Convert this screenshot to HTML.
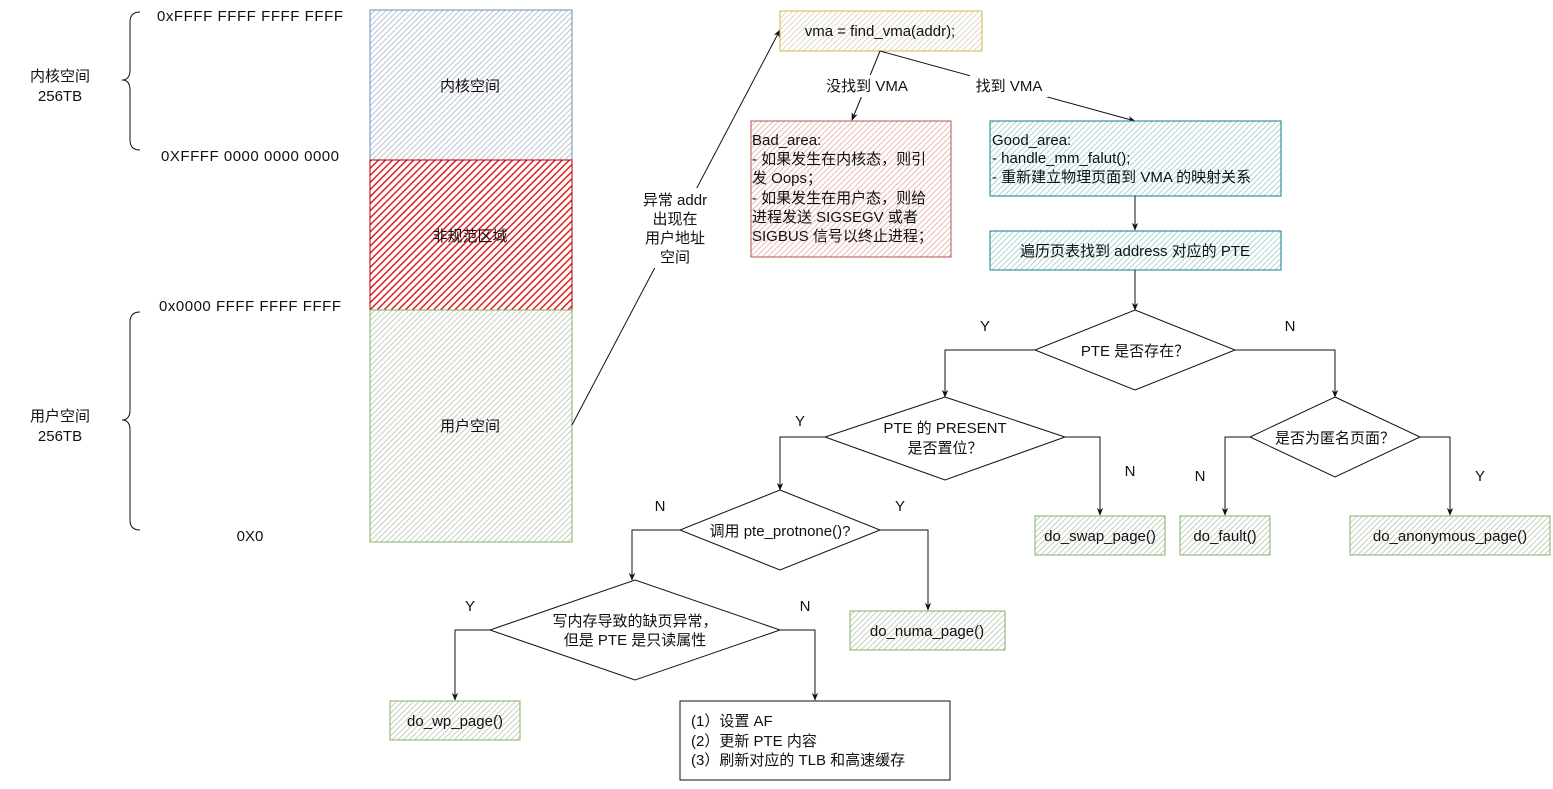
<!DOCTYPE html>
<html><head><meta charset="utf-8"><style>
html,body{margin:0;padding:0;background:#fff;}
svg text{font-family:"Liberation Sans","Noto Sans CJK SC",sans-serif;font-size:15px;fill:#111;}
</style></head><body>
<svg width="1553" height="784" viewBox="0 0 1553 784" xmlns="http://www.w3.org/2000/svg">
<defs>
<pattern id="hb" width="4" height="4" patternUnits="userSpaceOnUse" patternTransform="rotate(45)"><rect width="4" height="4" fill="#fff"/><line x1="0" y1="0" x2="0" y2="4" stroke="#aab6c8" stroke-width="1.6"/></pattern>
<pattern id="hr" width="5" height="5" patternUnits="userSpaceOnUse" patternTransform="rotate(45)"><rect width="5" height="5" fill="#fff"/><line x1="0" y1="0" x2="0" y2="5" stroke="#e02020" stroke-width="3"/></pattern>
<pattern id="hg" width="4" height="4" patternUnits="userSpaceOnUse" patternTransform="rotate(45)"><rect width="4" height="4" fill="#fff"/><line x1="0" y1="0" x2="0" y2="4" stroke="#b8c4b0" stroke-width="1.6"/></pattern>
<pattern id="hy" width="4" height="4" patternUnits="userSpaceOnUse" patternTransform="rotate(45)"><rect width="4" height="4" fill="#fff"/><line x1="0" y1="0" x2="0" y2="4" stroke="#d8d0b0" stroke-width="1.6"/></pattern>
<pattern id="hp" width="4" height="4" patternUnits="userSpaceOnUse" patternTransform="rotate(45)"><rect width="4" height="4" fill="#fff"/><line x1="0" y1="0" x2="0" y2="4" stroke="#e8a8a8" stroke-width="1.6"/></pattern>
<pattern id="ht" width="4" height="4" patternUnits="userSpaceOnUse" patternTransform="rotate(45)"><rect width="4" height="4" fill="#fff"/><line x1="0" y1="0" x2="0" y2="4" stroke="#98cccc" stroke-width="1.6"/></pattern>
<marker id="a" viewBox="0 0 10 10" refX="9" refY="5" markerWidth="8" markerHeight="8" orient="auto"><path d="M0,1 L10,5 L0,9 L3,5z" fill="#111"/></marker>
</defs>

<rect x="370" y="10" width="202" height="150" fill="url(#hb)" stroke="#6c8ebf"/>
<rect x="370" y="160" width="202" height="150" fill="url(#hr)" stroke="#b20000"/>
<rect x="370" y="310" width="202" height="232" fill="url(#hg)" stroke="#82b366"/>
<text x="470" y="91" text-anchor="middle">内核空间</text>
<text x="470" y="241" text-anchor="middle">非规范区域</text>
<text x="470" y="431" text-anchor="middle">用户空间</text>

<text x="250" y="21" text-anchor="middle" textLength="186">0xFFFF FFFF FFFF FFFF</text>
<text x="250" y="161" text-anchor="middle" textLength="178">0XFFFF 0000 0000 0000</text>
<text x="250" y="311" text-anchor="middle" textLength="182">0x0000 FFFF FFFF FFFF</text>
<text x="250" y="541" text-anchor="middle">0X0</text>
<text x="60" y="81" text-anchor="middle">内核空间</text>
<text x="60" y="101" text-anchor="middle">256TB</text>
<text x="60" y="421" text-anchor="middle">用户空间</text>
<text x="60" y="441" text-anchor="middle">256TB</text>
<path d="M140,12 Q130,12 130,22 L130,70 Q130,80 122,80 Q130,80 130,90 L130,140 Q130,150 140,150" fill="none" stroke="#111"/>
<path d="M140,312 Q130,312 130,322 L130,410 Q130,420 122,420 Q130,420 130,430 L130,520 Q130,530 140,530" fill="none" stroke="#111"/>

<line x1="572" y1="425" x2="780" y2="30" stroke="#111" marker-end="url(#a)"/>
<rect x="636" y="188" width="80" height="80" fill="#fff"/>
<text x="675" y="205" text-anchor="middle">异常 addr</text>
<text x="675" y="224" text-anchor="middle">出现在</text>
<text x="675" y="243" text-anchor="middle">用户地址</text>
<text x="675" y="262" text-anchor="middle">空间</text>

<rect x="780" y="11" width="202" height="40" fill="url(#hy)" stroke="#d6b656"/>
<text x="880" y="36" text-anchor="middle">vma = find_vma(addr);</text>
<line x1="880" y1="51" x2="852" y2="120" stroke="#111" marker-end="url(#a)"/>
<line x1="880" y1="51" x2="1135" y2="121" stroke="#111" marker-end="url(#a)"/>
<rect x="820" y="75" width="95" height="22" fill="#fff"/>
<text x="867" y="91" text-anchor="middle">没找到 VMA</text>
<rect x="970" y="75" width="78" height="22" fill="#fff"/>
<text x="1009" y="91" text-anchor="middle">找到 VMA</text>

<rect x="751" y="121" width="200" height="136" fill="url(#hp)" stroke="#b85450"/>
<text x="752" y="145">Bad_area:</text>
<text x="752" y="164">- 如果发生在内核态，则引</text>
<text x="752" y="183">发 Oops；</text>
<text x="752" y="203">- 如果发生在用户态，则给</text>
<text x="752" y="222">进程发送 SIGSEGV 或者</text>
<text x="752" y="241">SIGBUS 信号以终止进程；</text>

<rect x="990" y="121" width="291" height="75" fill="url(#ht)" stroke="#0e8088"/>
<text x="992" y="145">Good_area:</text>
<text x="992" y="163">- handle_mm_falut();</text>
<text x="992" y="182">- 重新建立物理页面到 VMA 的映射关系</text>
<line x1="1135" y1="196" x2="1135" y2="230" stroke="#111" marker-end="url(#a)"/>
<rect x="990" y="231" width="291" height="39" fill="url(#ht)" stroke="#0e8088"/>
<text x="1135" y="256" text-anchor="middle">遍历页表找到 address 对应的 PTE</text>
<line x1="1135" y1="270" x2="1135" y2="310" stroke="#111" marker-end="url(#a)"/>

<g fill="#fff" stroke="#111">
<polygon points="1135,310 1235,350 1135,390 1035,350"/>
<polygon points="945,397 1065,437 945,480 825,437"/>
<polygon points="1335,397 1420,437 1335,477 1250,437"/>
<polygon points="780,490 880,530 780,570 680,530"/>
<polygon points="635,580 780,630 635,680 490,630"/>
</g>
<text x="1135" y="356" text-anchor="middle">PTE 是否存在？</text>
<text x="945" y="433" text-anchor="middle">PTE 的 PRESENT</text>
<text x="945" y="453" text-anchor="middle">是否置位？</text>
<text x="1335" y="443" text-anchor="middle">是否为匿名页面？</text>
<text x="780" y="536" text-anchor="middle">调用 pte_protnone()?</text>
<text x="635" y="626" text-anchor="middle">写内存导致的缺页异常，</text>
<text x="635" y="645" text-anchor="middle">但是 PTE 是只读属性</text>

<g fill="none" stroke="#111" marker-end="url(#a)">
<polyline points="1035,350 945,350 945,397"/>
<polyline points="1235,350 1335,350 1335,397"/>
<polyline points="825,437 780,437 780,490"/>
<polyline points="1065,437 1100,437 1100,515"/>
<polyline points="1250,437 1225,437 1225,515"/>
<polyline points="1420,437 1450,437 1450,515"/>
<polyline points="680,530 632,530 632,580"/>
<polyline points="880,530 928,530 928,610"/>
<polyline points="490,630 455,630 455,700"/>
<polyline points="780,630 815,630 815,700"/>
</g>
<text x="985" y="331" text-anchor="middle">Y</text>
<text x="1290" y="331" text-anchor="middle">N</text>
<text x="800" y="426" text-anchor="middle">Y</text>
<text x="1130" y="476" text-anchor="middle">N</text>
<text x="1200" y="481" text-anchor="middle">N</text>
<text x="1480" y="481" text-anchor="middle">Y</text>
<text x="660" y="511" text-anchor="middle">N</text>
<text x="900" y="511" text-anchor="middle">Y</text>
<text x="470" y="611" text-anchor="middle">Y</text>
<text x="805" y="611" text-anchor="middle">N</text>

<g fill="url(#hg)" stroke="#82b366">
<rect x="1035" y="516" width="130" height="39"/>
<rect x="1180" y="516" width="90" height="39"/>
<rect x="1350" y="516" width="200" height="39"/>
<rect x="850" y="611" width="155" height="39"/>
<rect x="390" y="701" width="130" height="39"/>
</g>
<text x="1100" y="541" text-anchor="middle">do_swap_page()</text>
<text x="1225" y="541" text-anchor="middle">do_fault()</text>
<text x="1450" y="541" text-anchor="middle">do_anonymous_page()</text>
<text x="927" y="636" text-anchor="middle">do_numa_page()</text>
<text x="455" y="726" text-anchor="middle">do_wp_page()</text>

<rect x="680" y="701" width="270" height="79" fill="#fff" stroke="#111"/>
<text x="691" y="726">(1）设置 AF</text>
<text x="691" y="746">(2）更新 PTE 内容</text>
<text x="691" y="765">(3）刷新对应的 TLB 和高速缓存</text>
</svg>
</body></html>
